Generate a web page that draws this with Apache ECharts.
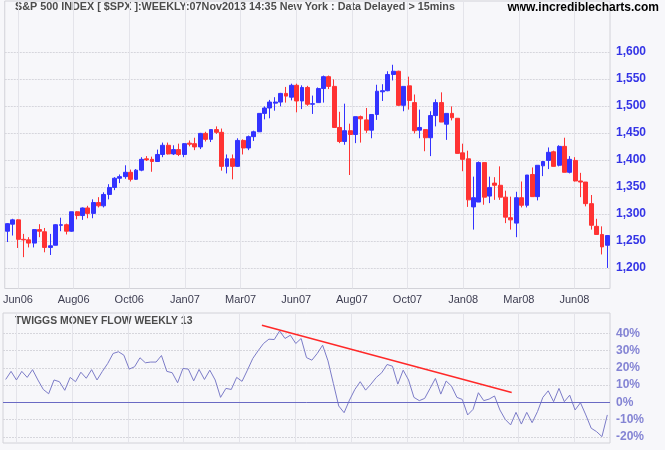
<!DOCTYPE html>
<html><head><meta charset="utf-8">
<script src="https://cdn.jsdelivr.net/npm/echarts@6/dist/echarts.min.js"></script>
<style>html,body{margin:0;padding:0;background:#f7f7fa}#c{width:665px;height:450px}</style>
</head><body><div id="c"></div><script>
// Weekly bars from week of 22 May 2006 to week of 14 Jul 2008
const opens  = [1268,1281,1289,1253,1252,1246,1271,1267,1238,1242,1279,1280,1268,1304,1297,1311,1301,1321,1315,1336,1349,1366,1369,1377,1364,1381,1402,1401,1397,1410,1427,1411,1419,1410,1431,1430,1424,1449,1438,1456,1451,1388,1402,1388,1436,1422,1443,1452,1486,1496,1505,1507,1523,1516,1538,1509,1534,1503,1506,1532,1554,1536,1460,1434,1454,1447,1480,1474,1455,1484,1526,1528,1558,1564,1501,1537,1506,1455,1456,1441,1482,1506,1466,1486,1477,1413,1402,1313,1322,1395,1333,1357,1353,1331,1293,1283,1330,1316,1373,1332,1389,1399,1415,1390,1425,1377,1399,1361,1359,1319,1277,1262,1242];
const closes = [1282,1289,1253,1252,1246,1271,1268,1238,1241,1280,1280,1268,1304,1297,1311,1301,1321,1315,1336,1349,1366,1369,1377,1364,1381,1401,1400,1397,1410,1427,1411,1419,1410,1430,1429,1424,1449,1438,1456,1451,1388,1402,1388,1436,1422,1443,1452,1486,1496,1507,1507,1523,1518,1538,1509,1534,1503,1504,1532,1554,1536,1460,1434,1454,1447,1480,1476,1455,1484,1527,1528,1558,1564,1501,1536,1510,1454,1460,1441,1482,1506,1470,1486,1478,1412,1401,1326,1330,1395,1331,1349,1353,1331,1294,1289,1330,1316,1372,1332,1390,1397,1414,1388,1425,1377,1401,1361,1359,1319,1279,1262,1239,1260];
const lows   = [1248,1260,1237,1220,1238,1238,1257,1229,1224,1242,1268,1262,1267,1290,1289,1292,1292,1312,1312,1327,1344,1357,1365,1360,1363,1379,1398,1378,1397,1405,1410,1409,1407,1405,1425,1418,1420,1434,1433,1448,1380,1375,1364,1387,1410,1418,1435,1452,1475,1477,1491,1499,1506,1510,1488,1494,1500,1485,1506,1506,1531,1460,1431,1428,1372,1431,1432,1450,1440,1474,1509,1527,1547,1500,1490,1493,1449,1440,1416,1407,1462,1470,1437,1473,1412,1379,1313,1271,1322,1317,1320,1326,1326,1283,1271,1257,1312,1312,1332,1325,1370,1383,1388,1388,1377,1375,1360,1331,1314,1271,1262,1225,1200];
const highs  = [1283,1291,1290,1263,1257,1272,1281,1274,1263,1281,1293,1282,1304,1305,1312,1315,1327,1331,1340,1355,1368,1373,1390,1382,1383,1405,1407,1406,1419,1432,1432,1427,1430,1431,1436,1441,1450,1452,1456,1462,1458,1410,1410,1440,1438,1445,1454,1486,1499,1511,1516,1524,1535,1541,1541,1538,1537,1519,1534,1556,1556,1549,1489,1504,1467,1480,1482,1496,1484,1539,1540,1564,1576,1565,1536,1554,1521,1493,1456,1490,1512,1525,1486,1499,1477,1430,1417,1369,1397,1395,1369,1368,1388,1343,1332,1341,1360,1372,1386,1390,1397,1423,1417,1427,1441,1407,1405,1376,1359,1335,1291,1277,1261];
// Twiggs Money Flow (13 week), percent
const tmf = [13.3,18,13,18,14.5,19,13,7.5,5,13,12,7,14.5,12,17.5,14,19,13,18,22.6,28.4,29.4,27.4,19.3,20.7,25.9,23,23.4,23.4,27.2,18,17.2,11.4,19.7,19.3,12.5,19.1,13.3,18.7,13,2.9,8.1,7.5,14.5,12.2,18.7,25.5,30,34.2,36.7,36.5,41.5,37.1,39,34.2,37.1,26,24.5,28.4,33.2,24.1,11,-2.1,-6,1.3,7.5,12,7.1,10.6,14.5,17.2,22,21,10.6,18.7,13,2.9,1,2.3,8.1,13.9,4.8,12.4,9.4,2.9,1.7,-7.3,-4.1,5.6,1,1.9,3.7,-4.4,-9.9,-13.1,-5.8,-12.6,-5.8,-11.8,-5.4,2.9,6.7,0.4,8.1,0.4,4.2,-4.4,-0.2,-7.3,-15,-17,-19.9,-7.3];
// Trend line drawn on the money flow panel: [week index, percent]
const trendStart = [47.7, 44.8];
const trendEnd = [94.2, 5.7];
const monthLabels = ['Jun06','Aug06','Oct06','Jan07','Mar07','Jun07','Aug07','Oct07','Jan08','Mar08','Jun08'];
const priceTicks = [1200,1250,1300,1350,1400,1450,1500,1550,1600];
const tmfTicks = [-20,-10,0,10,20,30,40];

const gridStart = 1.97, gridStep = 10.39;
const gridPos = monthLabels.map((_, k) => gridStart + k * gridStep);

const candleData = opens.map((o, i) => [i, o, closes[i], lows[i], highs[i]]);
const tmfData = tmf.map((v, i) => [i, v]);

const chart = echarts.init(document.getElementById('c'), null, {renderer: 'canvas'});
const vSplit = {show: true, lineStyle: {color: '#e4e4ea', width: 1}};
chart.setOption({
  animation: false,
  backgroundColor: '#f7f7fa',
  grid: [
    {left: 3, right: 55, top: 1, height: 287.5, show: true, borderColor: '#d2d2d8', borderWidth: 1, backgroundColor: 'transparent'},
    {left: 3, right: 55, top: 313, height: 130, show: true, borderColor: '#d2d2d8', borderWidth: 1, backgroundColor: 'transparent'}
  ],
  xAxis: [
    {type: 'value', gridIndex: 0, min: -0.5, max: 112.5,
     axisLine: {show: false}, axisTick: {show: false, customValues: gridPos},
     axisLabel: {customValues: gridPos, color: '#3c3c50', fontSize: 11, fontFamily: 'Liberation Sans', margin: 6,
       formatter: v => monthLabels[Math.round((v - gridStart) / gridStep)] || ''},
     splitLine: vSplit},
    {type: 'value', gridIndex: 1, min: -0.5, max: 112.5,
     axisLine: {show: false}, axisTick: {show: false, customValues: gridPos},
     axisLabel: {show: false, customValues: gridPos}, splitLine: vSplit}
  ],
  yAxis: [
    {type: 'value', gridIndex: 0, position: 'right', min: 1162, max: 1694, scale: true,
     axisLine: {show: false}, axisTick: {show: false, customValues: priceTicks},
     axisLabel: {customValues: priceTicks, color: '#3434e6', fontWeight: 'bold', fontSize: 12, fontFamily: 'Liberation Sans', margin: 6,
       formatter: v => v.toLocaleString('en-US')},
     splitLine: {show: true, lineStyle: {color: '#d6d6dc', type: [2, 1], width: 1}}},
    {type: 'value', gridIndex: 1, position: 'right', min: -23.6, max: 51.9,
     axisLine: {show: false}, axisTick: {show: false, customValues: tmfTicks},
     axisLabel: {customValues: tmfTicks, color: '#8484d4', fontWeight: 'bold', fontSize: 12, fontFamily: 'Liberation Sans', margin: 6,
       formatter: v => v + '%'},
     splitLine: {show: true, lineStyle: {color: '#d6d6dc', type: [2, 1], width: 1}}}
  ],
  series: [
    {type: 'candlestick', xAxisIndex: 0, yAxisIndex: 0, data: candleData, barWidth: 4.4,
     itemStyle: {color: '#3333ff', color0: '#ff3333', borderColor: '#3333ff', borderColor0: '#ff3333', borderWidth: 1}},
    {type: 'line', xAxisIndex: 1, yAxisIndex: 1, data: tmfData, symbol: 'none',
     lineStyle: {color: '#7c7cc8', width: 1},
     markLine: {silent: true, symbol: 'none', label: {show: false},
       lineStyle: {color: '#6a6ac4', type: 'solid', width: 1}, data: [{yAxis: 0}]}},
    {type: 'line', xAxisIndex: 1, yAxisIndex: 1, data: [trendStart, trendEnd], symbol: 'none',
     lineStyle: {color: '#ff2828', width: 1.5}}
  ],
  graphic: [
    {type: 'text', left: 15, top: 2, style: {text: 'S&P 500 INDEX [ $SPX ]:WEEKLY:07Nov2013 14:35 New York : Data Delayed > 15mins',
      fill: '#4c4c4c', font: 'bold 10.8px "Liberation Sans"'}},
    {type: 'text', right: 6, top: 2, style: {text: 'www.incrediblecharts.com', fill: '#000000', font: 'bold 12px "Liberation Sans"'}},
    {type: 'text', left: 15, top: 316, style: {text: 'TWIGGS MONEY FLOW WEEKLY 13', fill: '#4c4c4c', font: 'bold 10.4px "Liberation Sans"'}}
  ]
});
</script></body></html>
